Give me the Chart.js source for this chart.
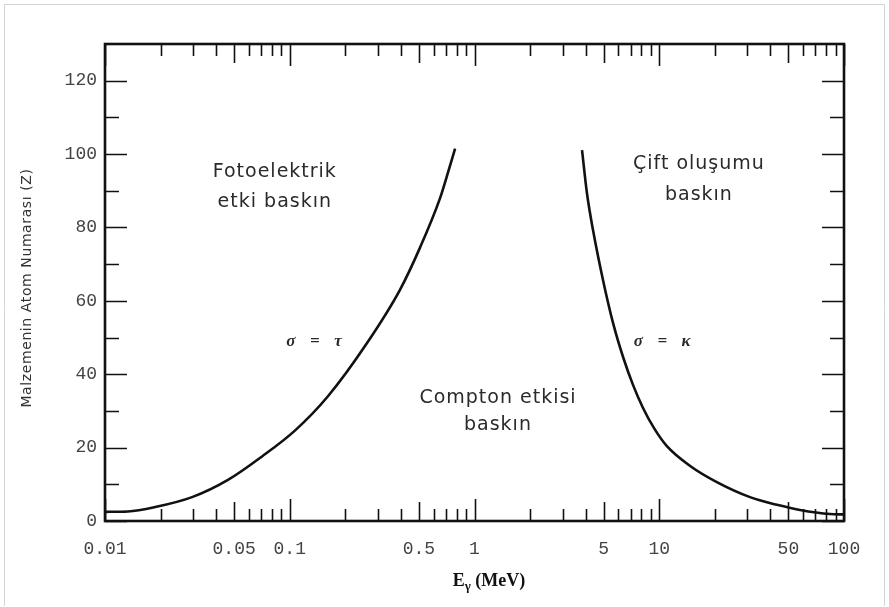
<!DOCTYPE html>
<html lang="tr">
<head>
<meta charset="utf-8">
<title>Etkileşim bölgeleri</title>
<style>
  html, body { margin: 0; padding: 0; background: #fff; }
  #wrap { position: relative; width: 889px; height: 607px; }
</style>
</head>
<body>
<div id="wrap"><canvas id="chart" width="889" height="607"></canvas></div>
<script src="https://cdn.jsdelivr.net/npm/chart.js@4.4.1/dist/chart.umd.min.js"></script>
<script>
// axis labels that carry text
const xLabelTicks = [0.01, 0.05, 0.1, 0.5, 1, 5, 10, 50, 100];
const yLabelTicks = [0, 20, 40, 60, 80, 100, 120];

// sigma = tau boundary (photoelectric vs Compton)
const photoE = [0.01, 0.0133, 0.0187, 0.0296, 0.0463, 0.0708, 0.107, 0.161, 0.262, 0.395, 0.507, 0.651, 0.719, 0.785];
const photoZ = [2.5, 2.6, 3.8, 6.5, 11.2, 17.6, 24.7, 34, 48.5, 63, 74.5, 88, 95, 101.5];

// sigma = kappa boundary (Compton vs pair production)
const pairE = [3.82, 4.06, 4.38, 4.96, 5.62, 6.37, 7.21, 8.17, 9.37, 11.0, 14.7, 20.5, 31.0, 43.4, 57.8, 84.0, 100];
const pairZ = [101.1, 89.4, 79.3, 65.7, 54, 44.7, 37.1, 30.8, 25.3, 20.4, 15.0, 10.6, 6.5, 4.4, 3.0, 1.9, 1.8];

// region texts
const regionText = [
    ["Fotoelektrik", "etki baskın"],
    ["Çift oluşumu", "baskın"],
    ["Compton etkisi", "baskın"]
];
const curveText = ["σ  =  τ", "σ  =  κ"];

// where the texts sit, in data units (E, Z) per line
const regionPos = [
    [[0.083, 95.1], [0.083, 86.9]],
    [[16.4, 97.4], [16.4, 88.9]],
    [[1.34, 33.5], [1.34, 26.2]]
];
const curvePos = [[0.137, 48.8], [10.5, 48.8]];

// every minor position on the log axis
const xAllTicks = [];
for (let k = -2; k < 2; k++) {
    for (let m = 1; m <= 9; m++) {
        xAllTicks.push(+(m + "e" + k));
    }
}
xAllTicks.push(100);

const yAllTicks = [];
for (let z = 0; z <= 120; z += 10) yAllTicks.push(z);

const toPoints = (xs, ys) => xs.map((x, i) => ({ x: x, y: ys[i] }));

// frame, inward ticks and all the loose text
const decorPlugin = {
    id: "decor",
    afterDraw(chart) {
        const ctx = chart.ctx;
        const a = chart.chartArea;
        const xs = chart.scales.x;
        const ys = chart.scales.y;

        ctx.save();

        // thin grey page border
        ctx.strokeStyle = "#d4d4d4";
        ctx.lineWidth = 1;
        ctx.beginPath();
        ctx.moveTo(4.5, 606);
        ctx.lineTo(4.5, 4.5);
        ctx.lineTo(884.5, 4.5);
        ctx.lineTo(884.5, 606);
        ctx.stroke();

        ctx.strokeStyle = "#111";
        ctx.lineWidth = 1.6;

        // x ticks, bottom and top, pointing inwards
        xAllTicks.forEach(v => {
            const px = Math.round(xs.getPixelForValue(v)) + 0.5;
            const m = Math.round(v / Math.pow(10, Math.floor(Math.log10(v) + 1e-9)));
            let len = 12;
            if (m === 1) len = 22;
            else if (m === 5) len = 19;
            ctx.beginPath();
            ctx.moveTo(px, a.bottom);
            ctx.lineTo(px, a.bottom - len);
            ctx.moveTo(px, a.top);
            ctx.lineTo(px, a.top + len);
            ctx.stroke();
        });

        // y ticks, left and right
        yAllTicks.forEach(v => {
            const py = Math.round(ys.getPixelForValue(v)) + 0.5;
            const len = v % 20 === 0 ? 22 : 14;
            ctx.beginPath();
            ctx.moveTo(a.left, py);
            ctx.lineTo(a.left + len, py);
            ctx.moveTo(a.right, py);
            ctx.lineTo(a.right - len, py);
            ctx.stroke();
        });

        // frame
        ctx.lineWidth = 2.6;
        ctx.strokeRect(a.left, a.top, a.right - a.left, a.bottom - a.top);

        // region texts
        ctx.fillStyle = "#2a2a2a";
        ctx.textAlign = "center";
        ctx.textBaseline = "middle";
        ctx.font = "19px 'DejaVu Sans', sans-serif";
        ctx.letterSpacing = "1px";
        regionText.forEach((lines, i) => {
            lines.forEach((t, j) => {
                const p = regionPos[i][j];
                ctx.fillText(t, xs.getPixelForValue(p[0]), ys.getPixelForValue(p[1]));
            });
        });

        ctx.font = "italic bold 17px 'Liberation Serif', serif";
        ctx.letterSpacing = "2px";
        curveText.forEach((t, i) => {
            const p = curvePos[i];
            ctx.fillText(t, xs.getPixelForValue(p[0]), ys.getPixelForValue(p[1]));
        });

        // y axis title
        ctx.save();
        ctx.translate(27, 288);
        ctx.rotate(-Math.PI / 2);
        ctx.font = "14px 'DejaVu Sans', sans-serif";
        ctx.letterSpacing = "0.6px";
        ctx.fillStyle = "#333";
        ctx.fillText("Malzemenin Atom Numarası (Z)", 0, 0);
        ctx.restore();

        // x axis title, E with subscript gamma
        ctx.letterSpacing = "0px";
        ctx.fillStyle = "#111";
        ctx.textAlign = "left";
        ctx.textBaseline = "alphabetic";
        const boldSerif = "bold 18px 'Liberation Serif', serif";
        const subSerif = "bold 13px 'Liberation Serif', serif";
        ctx.font = boldSerif;
        const wE = ctx.measureText("E").width;
        const wRest = ctx.measureText(" (MeV)").width;
        ctx.font = subSerif;
        const wG = ctx.measureText("γ").width;
        let tx = 489 - (wE + wG + wRest) / 2;
        const ty = 586;
        ctx.font = boldSerif;
        ctx.fillText("E", tx, ty);
        tx += wE;
        ctx.font = subSerif;
        ctx.fillText("γ", tx, ty + 4);
        tx += wG;
        ctx.font = boldSerif;
        ctx.fillText(" (MeV)", tx, ty);

        ctx.restore();
    }
};

const chart = new Chart(document.getElementById("chart"), {
    type: "scatter",
    data: {
        datasets: [
            {
                label: "σ = τ",
                data: toPoints(photoE, photoZ),
                showLine: true,
                borderColor: "#111",
                borderWidth: 2.6,
                pointRadius: 0,
                cubicInterpolationMode: "monotone"
            },
            {
                label: "σ = κ",
                data: toPoints(pairE, pairZ),
                showLine: true,
                borderColor: "#111",
                borderWidth: 2.6,
                pointRadius: 0,
                cubicInterpolationMode: "monotone"
            }
        ]
    },
    options: {
        responsive: false,
        animation: false,
        devicePixelRatio: 1,
        layout: {
            padding: { left: 0, right: 45, top: 44, bottom: 0 }
        },
        plugins: {
            legend: { display: false },
            tooltip: { enabled: false }
        },
        scales: {
            x: {
                type: "logarithmic",
                min: 0.01,
                max: 100,
                afterBuildTicks: (scale) => {
                    scale.ticks = xAllTicks.map(v => ({ value: v }));
                },
                afterFit: (scale) => { scale.height = 86; },
                grid: { display: false, drawTicks: false },
                border: { display: false },
                ticks: {
                    autoSkip: false,
                    maxRotation: 0,
                    padding: 17,
                    color: "#444",
                    font: { family: "'Liberation Mono', monospace", size: 18 },
                    callback: (v) => xLabelTicks.includes(v) ? String(v) : ""
                }
            },
            y: {
                min: 0,
                max: 130,
                afterBuildTicks: (scale) => {
                    scale.ticks = yAllTicks.map(v => ({ value: v }));
                },
                afterFit: (scale) => { scale.width = 105; },
                grid: { display: false, drawTicks: false },
                border: { display: false },
                ticks: {
                    autoSkip: false,
                    padding: 8,
                    color: "#444",
                    font: { family: "'Liberation Mono', monospace", size: 18 },
                    callback: (v) => yLabelTicks.includes(v) ? String(v) : ""
                }
            }
        }
    },
    plugins: [decorPlugin]
});
</script>
</body>
</html>
